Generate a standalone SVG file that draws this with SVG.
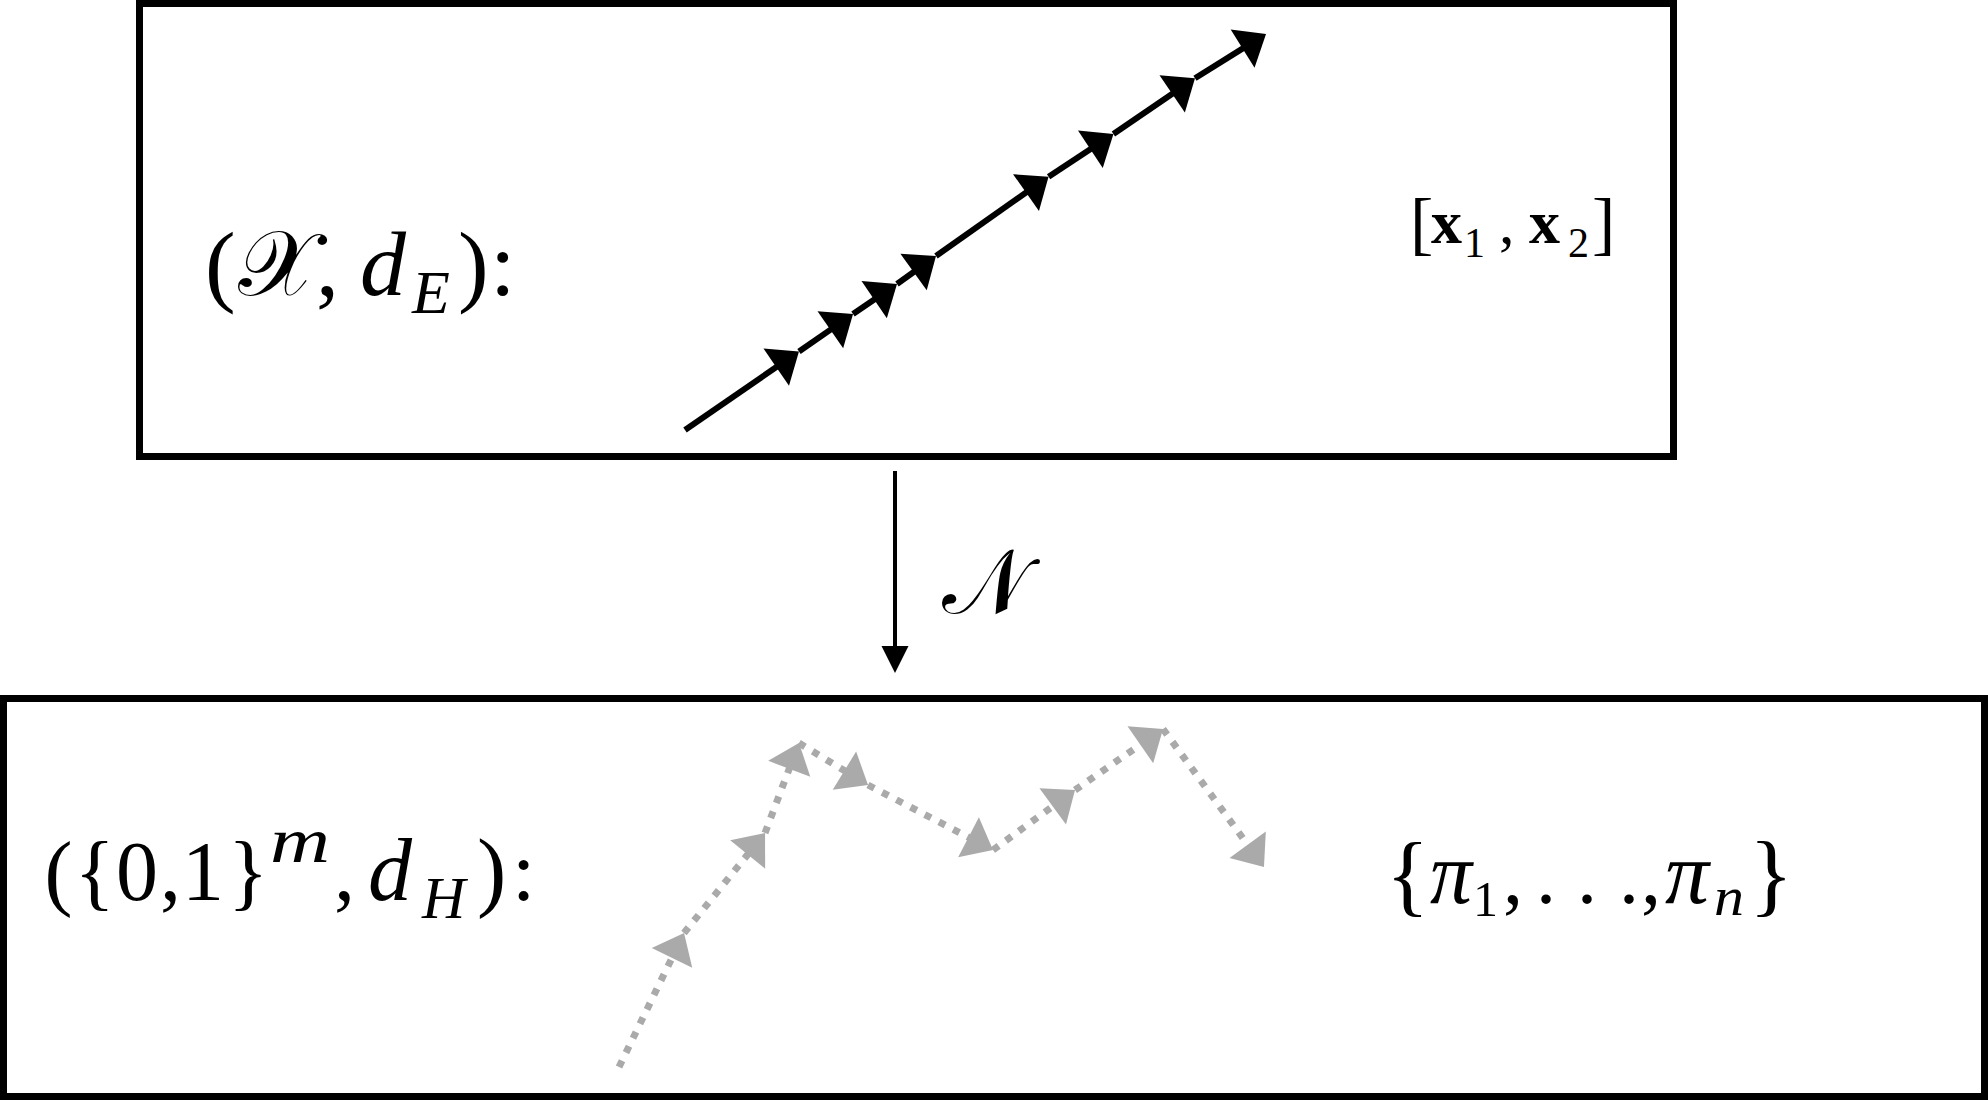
<svg xmlns="http://www.w3.org/2000/svg" width="1988" height="1100" viewBox="0 0 1988 1100">
<defs>
<style>
.box{fill:#ffffff;stroke:#000000;stroke-width:7}
.blk{stroke:#000000;stroke-width:6;fill:none}
.gry{stroke:#aaaaaa;stroke-width:7;fill:none;stroke-dasharray:7 9}
.t{font-family:"Liberation Serif","DejaVu Serif",serif;fill:#000000}
.i{font-style:italic}
.b{font-weight:bold}
.cal{font-family:"DejaVu Serif","DejaVu Sans","Noto Sans",serif;font-style:normal}
</style>
<marker id="hb" markerUnits="userSpaceOnUse" orient="auto" overflow="visible" markerWidth="60" markerHeight="60" refX="0" refY="0">
<path d="M15,0 L-12.6,-22.5 L-12.6,22.5 Z" fill="#000000"/>
</marker>
<marker id="hg" markerUnits="userSpaceOnUse" orient="auto" overflow="visible" markerWidth="60" markerHeight="60" refX="0" refY="0">
<path d="M15,0 L-12.6,-22.5 L-12.6,22.5 Z" fill="#aaaaaa"/>
</marker>
<marker id="hs" markerUnits="userSpaceOnUse" orient="auto" overflow="visible" markerWidth="40" markerHeight="40" refX="0" refY="0">
<path d="M13,0 L-14,-13.5 L-14,13.5 Z" fill="#000000"/>
</marker>
</defs>
<rect width="1988" height="1100" fill="#ffffff"/>

<g id="node-euclidean">
<rect class="box" x="139.5" y="3.5" width="1534" height="453"/>
<text class="t" y="295" font-size="92"><tspan x="205">(</tspan><tspan class="cal" x="238">𝒳</tspan><tspan x="316">,</tspan><tspan class="i" x="360">d</tspan><tspan class="i" x="412" y="313" font-size="62">E</tspan><tspan x="458" y="295">)</tspan><tspan x="490">:</tspan></text>
<text class="t" y="243"><tspan x="1410" y="247" font-size="70">[</tspan><tspan class="b" x="1431" y="243" font-size="62">x</tspan><tspan x="1464" y="257" font-size="42">1</tspan><tspan x="1499" y="243" font-size="62">,</tspan><tspan class="b" x="1529" font-size="62">x</tspan><tspan x="1568" y="257" font-size="42">2</tspan><tspan x="1592" y="247" font-size="70">]</tspan></text>
</g>

<g id="node-hamming">
<rect class="box" x="3.5" y="698.5" width="1981" height="398"/>
<text class="t" y="900" font-size="84"><tspan x="44.5">(</tspan><tspan x="74.5">{</tspan><tspan x="116">0</tspan><tspan x="160">,</tspan><tspan x="182">1</tspan><tspan x="228">}</tspan></text>
<text class="t i" x="270" y="862" font-size="64" textLength="60" lengthAdjust="spacingAndGlyphs">m</text>
<text class="t" y="900" font-size="84"><tspan x="334">,</tspan><tspan class="i" x="368" font-size="88">d</tspan><tspan class="i" x="422" y="918" font-size="60">H</tspan><tspan x="477" y="900" font-size="88">)</tspan><tspan x="512">:</tspan></text>
<text class="t" x="1386" y="905" font-size="90">{</text>
<text class="t i" x="1430" y="903" font-size="88" textLength="42" lengthAdjust="spacingAndGlyphs">π</text>
<text class="t" y="903" font-size="80"><tspan x="1473" y="916" font-size="50">1</tspan><tspan x="1503" y="903">,</tspan><tspan x="1536">.</tspan><tspan x="1577">.</tspan><tspan x="1619">.</tspan><tspan x="1641">,</tspan></text>
<text class="t i" x="1665" y="903" font-size="88" textLength="44" lengthAdjust="spacingAndGlyphs">π</text>
<text class="t i" x="1714" y="915" font-size="54" textLength="30" lengthAdjust="spacingAndGlyphs">n</text>
<text class="t" x="1749" y="905" font-size="92">}</text>
</g>

<g id="connectors">
<g id="euclidean-path">
<line class="blk" x1="685" y1="430" x2="786.6" y2="360.0" marker-end="url(#hb)"/>
<line class="blk" x1="799" y1="351.5" x2="840.7" y2="322.6" marker-end="url(#hb)"/>
<line class="blk" x1="853" y1="314" x2="884.6" y2="292.5" marker-end="url(#hb)"/>
<line class="blk" x1="897" y1="284" x2="923.8" y2="264.7" marker-end="url(#hb)"/>
<line class="blk" x1="936" y1="256" x2="1036.3" y2="185.3" marker-end="url(#hb)"/>
<line class="blk" x1="1048.6" y1="176.7" x2="1100.9" y2="142.3" marker-end="url(#hb)"/>
<line class="blk" x1="1113.4" y1="134" x2="1182.6" y2="86.8" marker-end="url(#hb)"/>
<line class="blk" x1="1195" y1="78.3" x2="1253.3" y2="41.9" marker-end="url(#hb)"/>
</g>
<g id="hamming-path">
<line class="gry" x1="619" y1="1067" x2="677.5" y2="946.5" marker-end="url(#hg)"/>
<line class="gry" x1="684" y1="933" x2="755.6" y2="844.7" marker-end="url(#hg)"/>
<line class="gry" x1="765" y1="833" x2="793.7" y2="757.0" marker-end="url(#hg)"/>
<line class="gry" x1="799" y1="743" x2="855.2" y2="777.2" marker-end="url(#hg)"/>
<line class="gry" x1="868" y1="785" x2="979.7" y2="843.1" marker-end="url(#hg)"/>
<line class="gry" x1="993" y1="850" x2="1062.9" y2="798.9" marker-end="url(#hg)"/>
<line class="gry" x1="1075" y1="790" x2="1150.7" y2="737.5" marker-end="url(#hg)"/>
<line class="gry" x1="1163" y1="729" x2="1255.1" y2="854.9" marker-end="url(#hg)"/>
</g>
<g id="map-arrow">
<line x1="895" y1="471" x2="895" y2="660" stroke="#000000" stroke-width="4" marker-end="url(#hs)"/>
<text class="t cal" x="942" y="613" font-size="90">𝒩</text>
</g>
</g>
</svg>
